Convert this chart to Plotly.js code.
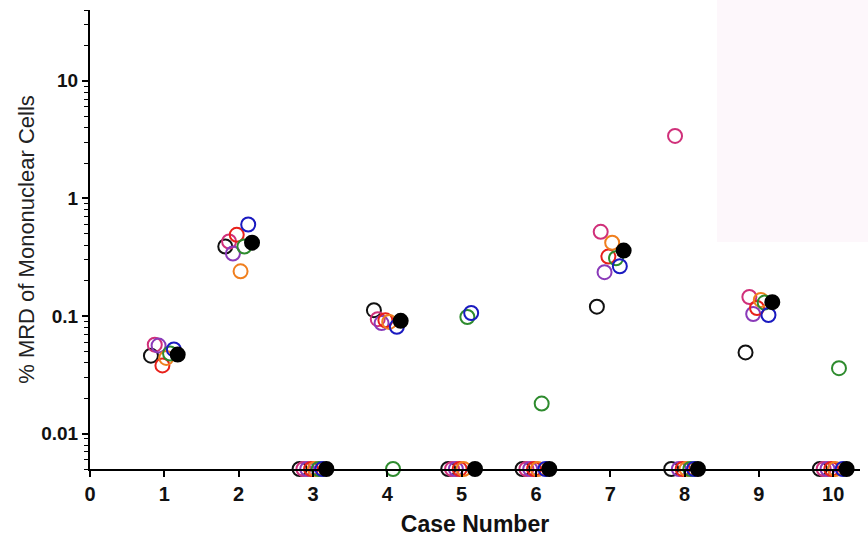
<!DOCTYPE html>
<html>
<head>
<meta charset="utf-8">
<script src="https://cdn.plot.ly/plotly-3.0.1.min.js"></script>
<style>html,body{margin:0;padding:0;background:#fff;}#chart{width:868px;height:537px;}</style>
</head>
<body>
<div id="chart"></div>
<script>
// Undetectable values are plotted on the detection floor (axis bottom)
const ND = 0.005;
const cases = [1, 2, 3, 4, 5, 6, 7, 8, 9, 10];
const xTickLabels = ['0', '1', '2', '3', '4', '5', '6', '7', '8', '9', '10'];
const yTickVals = [0.01, 0.1, 1, 10];
const yTickText = ['0.01', '0.1', '1', '10'];

const seriesBlackOpen = [0.046, 0.39, ND, 0.112, ND, ND, 0.12, ND, 0.049, ND];
const seriesMagenta   = [0.057, 0.43, ND, 0.094, ND, ND, 0.52, 3.4, 0.145, ND];
const seriesPurple    = [0.056, 0.34, ND, 0.087, ND, ND, 0.236, ND, 0.104, ND];
const seriesRed       = [0.038, 0.49, ND, 0.092, ND, ND, 0.32, ND, 0.117, ND];
const seriesOrange    = [0.044, 0.24, ND, 0.089, ND, ND, 0.42, ND, 0.137, ND];
const seriesGreen     = [0.048, 0.39, ND, ND, 0.098, 0.018, 0.31, ND, 0.13, 0.036];
const seriesBlue      = [0.052, 0.60, ND, 0.081, 0.106, ND, 0.265, ND, 0.102, ND];
const seriesBlackFill = [0.047, 0.42, ND, 0.091, ND, ND, 0.36, ND, 0.131, ND];

const allSeries = [seriesBlackOpen, seriesMagenta, seriesPurple, seriesRed, seriesOrange, seriesGreen, seriesBlue, seriesBlackFill];
const colors = ['#111111', '#D0307A', '#8A3AB9', '#E8201A', '#F07F1E', '#2E8B2E', '#1A1AC0', '#000000'];
const symbols = ['circle-open', 'circle-open', 'circle-open', 'circle-open', 'circle-open', 'circle-open', 'circle-open', 'circle'];

const n = allSeries.length;
const traces = allSeries.map((vals, i) => {
  const off = -0.18 + i * (0.36 / (n - 1));
  return {
    type: 'scatter', mode: 'markers',
    x: cases.map(c => c + off),
    y: vals,
    cliponaxis: false,
    marker: {symbol: symbols[i], size: 14, color: colors[i], line: {width: 2, color: colors[i]}},
    showlegend: false, hoverinfo: 'skip'
  };
});

// minor tick positions (2..9 × decade)
const minorVals = [];
[0.001, 0.01, 0.1, 1, 10].forEach(d => { for (let k = 2; k <= 9; k++) minorVals.push(k * d); });

const layout = {
  width: 868, height: 537,
  margin: {l: 90, r: 8, t: 10, b: 68},
  paper_bgcolor: '#ffffff', plot_bgcolor: 'rgba(0,0,0,0)',
  xaxis: {
    range: [0, 10.36], showgrid: false, zeroline: false,
    showline: true, linecolor: '#000', linewidth: 2,
    tickmode: 'array', tickvals: xTickLabels.map(Number), ticktext: xTickLabels,
    ticks: 'outside', ticklen: 6, tickwidth: 2, tickcolor: '#000',
    tickfont: {family: 'Liberation Sans, Arial', size: 20, color: '#111', weight: 'bold'},
    title: {text: 'Case Number', font: {family: 'Liberation Sans, Arial', size: 23, color: '#111', weight: 'bold'}, standoff: 12}
  },
  yaxis: {
    type: 'log', range: [Math.log10(ND), Math.log10(40)],
    showgrid: false, zeroline: false,
    showline: true, linecolor: '#000', linewidth: 2,
    tickmode: 'array', tickvals: yTickVals, ticktext: yTickText,
    ticks: 'outside', ticklen: 6, tickwidth: 2, tickcolor: '#000',
    tickfont: {family: 'Liberation Sans, Arial', size: 19, color: '#111', weight: 'bold'},
    minor: {tickmode: 'array', tickvals: minorVals, ticks: 'outside', ticklen: 4, tickwidth: 1, tickcolor: '#000', showgrid: false},
    title: {text: '% MRD of Mononuclear Cells', font: {family: 'Liberation Sans, Arial', size: 22, color: '#222'}, standoff: 1}
  },
  shapes: [{type: 'rect', xref: 'paper', yref: 'paper', layer: 'below',
    x0: (717 - 90) / 770, x1: 1.02, y0: (537 - 68 - 242) / 459, y1: 1.03,
    fillcolor: '#FDF7FB', line: {width: 0}}]
};

Plotly.newPlot('chart', traces, layout, {displayModeBar: false, staticPlot: true});
</script>
</body>
</html>
